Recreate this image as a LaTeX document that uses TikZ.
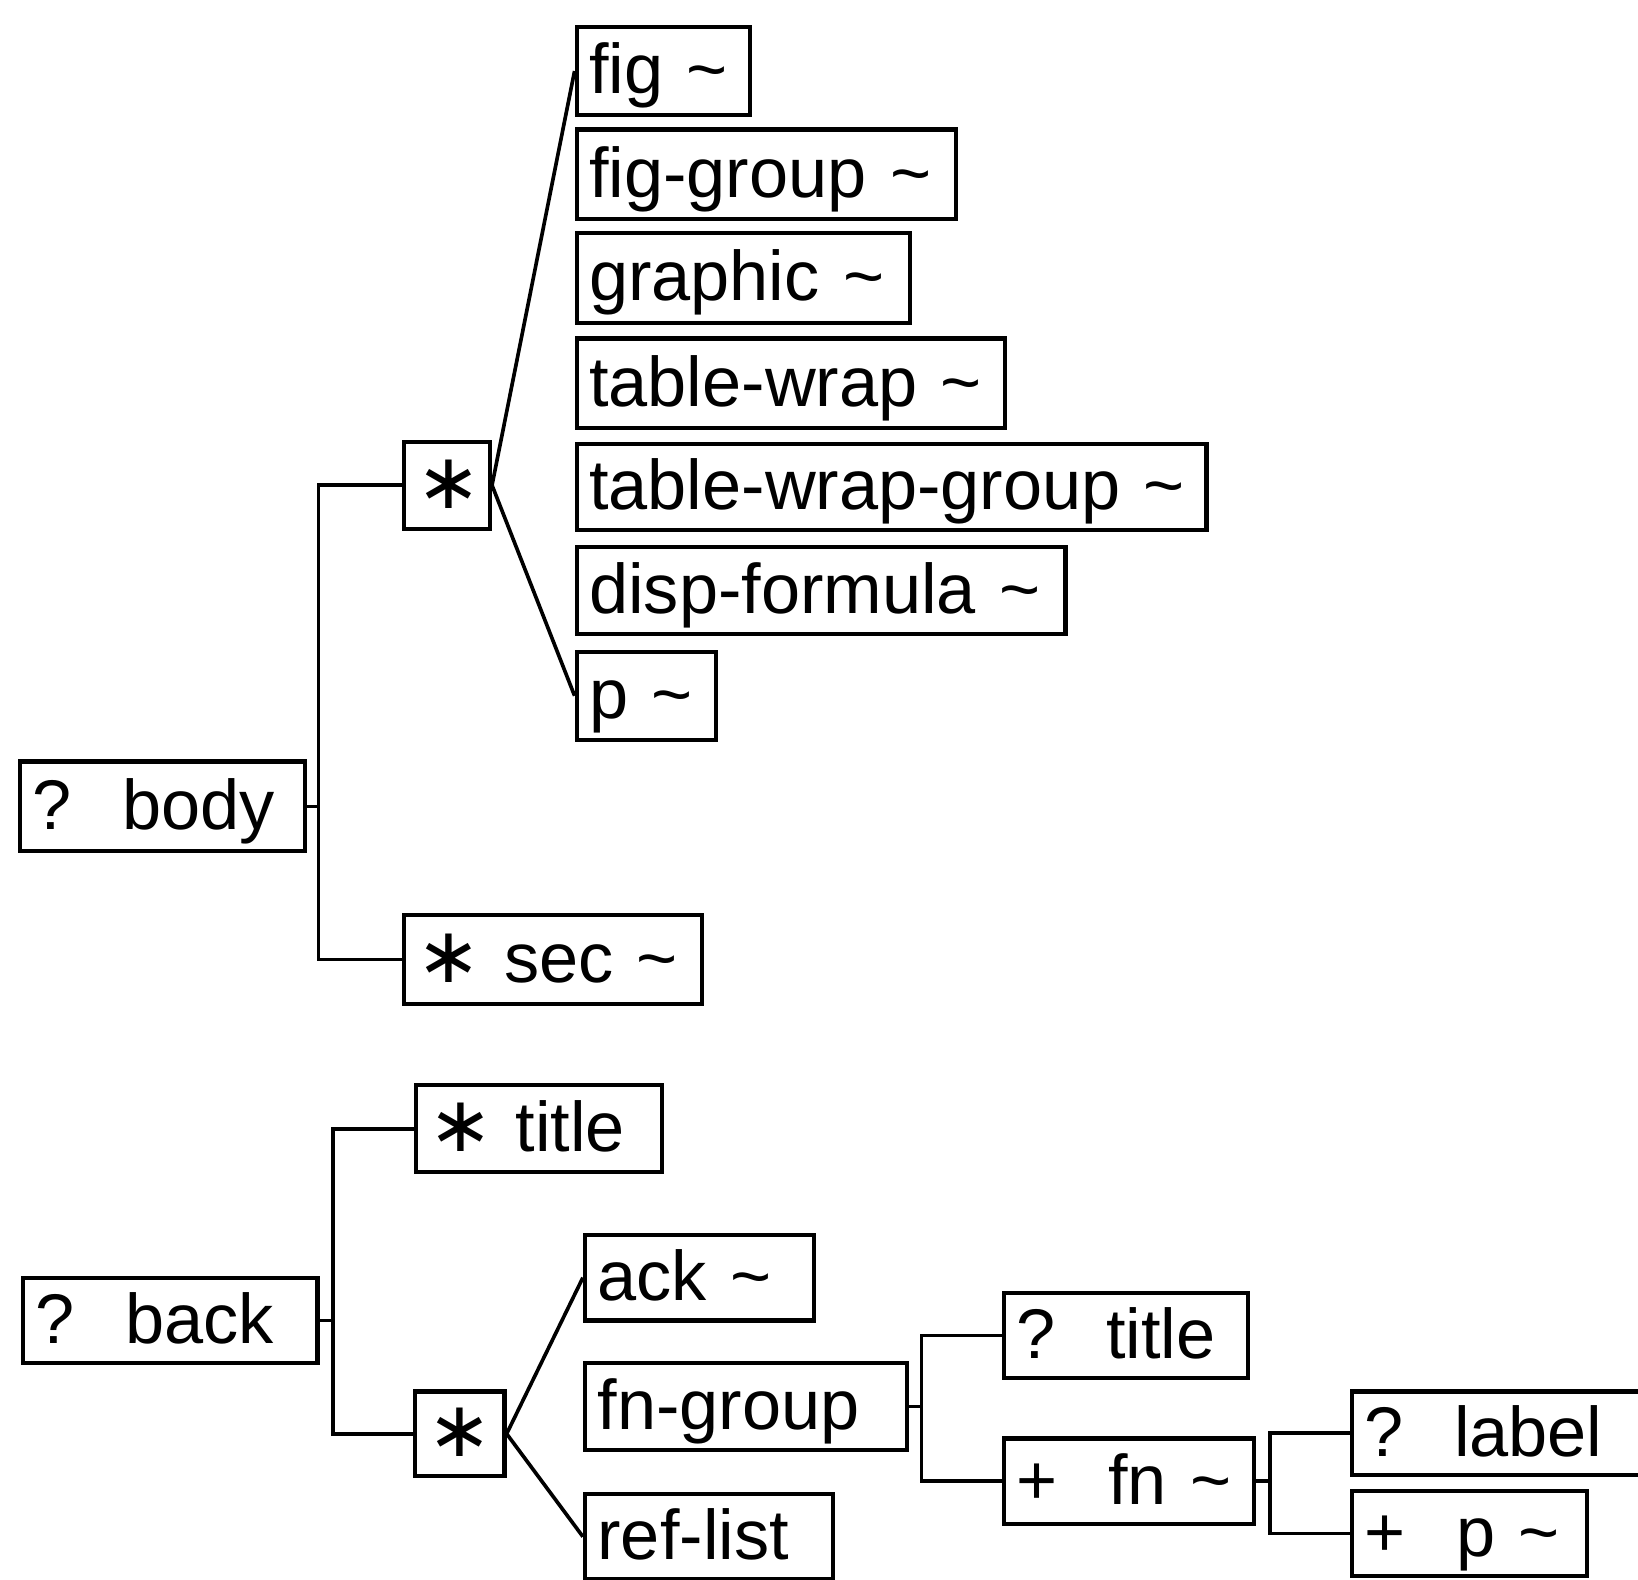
\documentclass[tikz,border=0pt]{standalone}
\usepackage{fontspec}
\setmainfont{Liberation Sans}
\newfontfamily\symfam{DejaVu Sans}
\usepackage{tikz}
\newlength\px
\setlength\px{0.020893cm}
\newcommand{\tld}{\textasciitilde}
\newcommand{\rpt}{{\symfam\scalebox{1.1}{∗}}\hspace{0.32em}}
\newcommand{\gap}{\hspace{0.72em}}

\begin{document}
\begin{tikzpicture}[x=\px,y=-\px,
    elem/.style={draw=black,line width=4\px,anchor=north west,inner xsep=12\px,inner ysep=0pt,align=left,
      text height=32pt,text depth=6pt,font=\fontsize{40}{48}\selectfont},
    group/.style={elem,align=center},
    link/.style={line width=3.5\px}]
    \useasboundingbox (0,0) rectangle (1568,1512);
    % body part
    \node[elem,text width=249\px,minimum height=86\px] (body) at (17,727) {\mbox{?\gap body}};
    \node[group,text width=58\px,minimum height=83\px] (seqb) at (385,421) {{\symfam\scalebox{1.1}{∗}}};
    \node[elem,text width=261\px,minimum height=85\px] (sec) at (385,874) {\mbox{\rpt sec \tld}};
    \node[elem,text width=142\px,minimum height=84\px] (fig) at (550,24) {fig \tld};
    \node[elem,text width=339\px,minimum height=86\px] (figgrp) at (550,122) {fig-group \tld};
    \node[elem,text width=295\px,minimum height=86\px] (graphic) at (550,221) {graphic \tld};
    \node[elem,text width=386\px,minimum height=86\px] (tabwrap) at (550,322) {table-wrap \tld};
    \node[elem,text width=579\px,minimum height=82\px] (tabwrapgrp) at (550,423) {\mbox{table-wrap-group \tld}};
    \node[elem,text width=444\px,minimum height=83\px] (dispf) at (550,522) {disp-formula \tld};
    \node[elem,text width=109\px,minimum height=84\px] (pb) at (550,622) {p \tld};
    \draw[link] (body.east) -- ++(11,0) |- (seqb.west);
    \draw[link] (body.east) -- ++(11,0) |- (sec.west);
    \draw[link] (seqb.east) -- (fig.west);
    \draw[link] (seqb.east) -- (pb.west);
    % back part
    \node[elem,text width=258\px,minimum height=82\px] (back) at (20,1221) {\mbox{?\gap back}};
    \node[elem,text width=212\px,minimum height=83\px] (backtitle) at (396,1037) {\mbox{\rpt title}};
    \node[group,text width=62\px,minimum height=81\px] (choice) at (395,1330) {{\symfam\scalebox{1.1}{∗}}};
    \node[elem,text width=195\px,minimum height=82\px] (ack) at (558,1180) {ack \tld};
    \node[elem,text width=284\px,minimum height=83\px] (fngroup) at (558,1303) {fn-group};
    \node[elem,text width=213\px,minimum height=82\px] (reflist) at (558,1428) {ref-list};
    \node[elem,text width=210\px,minimum height=81\px] (fntitle) at (959,1236) {\mbox{?\gap title}};
    \node[elem,text width=215\px,minimum height=82\px] (fn) at (959,1375) {\mbox{+\gap fn \tld}};
    \node[elem,text width=272\px,minimum height=80\px] (label) at (1292,1330) {\mbox{?\gap label}};
    \node[elem,text width=201\px,minimum height=82\px] (pfn) at (1292,1425) {\mbox{+\gap p \tld}};
    \draw[link] (back.east) -- ++(13,0) |- (backtitle.west);
    \draw[link] (back.east) -- ++(13,0) |- (choice.west);
    \draw[link] (choice.east) -- (ack.west);
    \draw[link] (choice.east) -- (reflist.west);
    \draw[link] (fngroup.east) -- ++(12,0) |- (fntitle.west);
    \draw[link] (fngroup.east) -- ++(12,0) |- (fn.west);
    \draw[link] (fn.east) -- ++(14,0) |- (label.west);
    \draw[link] (fn.east) -- ++(14,0) |- (pfn.west);
\end{tikzpicture}
\end{document}
